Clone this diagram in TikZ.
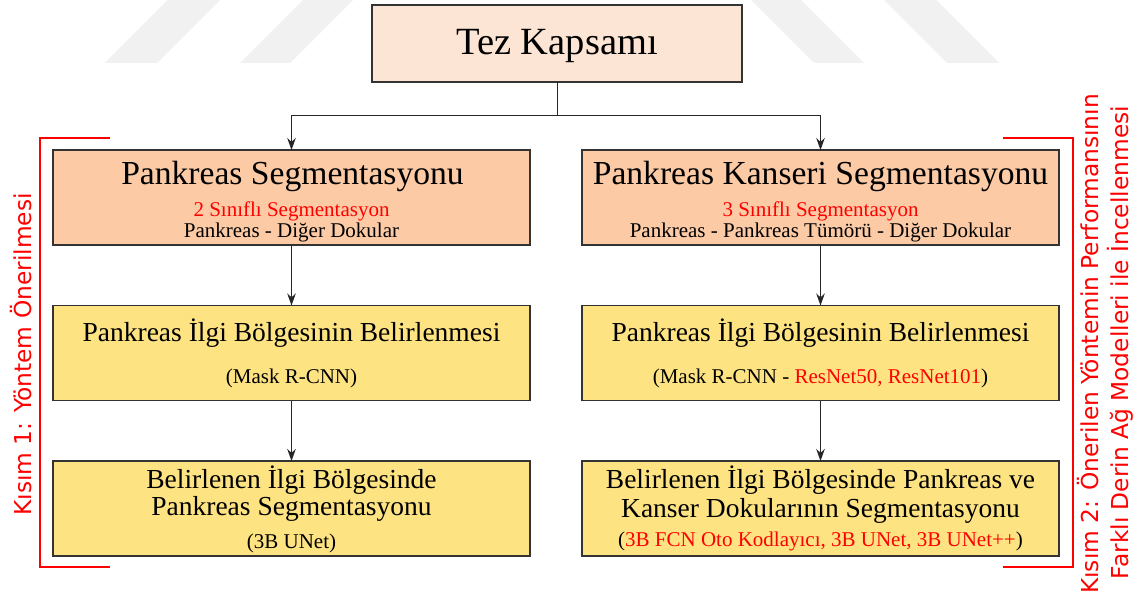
\documentclass[tikz,border=0pt]{standalone}
\usepackage{fontspec}
\setmainfont{Liberation Serif}
\newfontfamily\sidefont{DejaVu Sans}
\usetikzlibrary{arrows.meta}

\definecolor{rootfill}{RGB}{253,229,213}
\definecolor{segfill}{RGB}{252,203,166}
\definecolor{stagefill}{RGB}{253,227,130}
\definecolor{markred}{RGB}{255,0,0}
\definecolor{stripe}{RGB}{241,241,241}

\tikzset{
  box/.style={draw=black!80, line width=1.2pt, inner sep=0pt, outer sep=0pt},
  rootbox/.style={box, fill=rootfill, minimum width=370pt, minimum height=77pt},
  segbox/.style={box, fill=segfill, minimum width=477pt, minimum height=95pt},
  stagebox/.style={box, fill=stagefill, minimum width=477pt, minimum height=95pt},
  roottext/.style={anchor=base, inner sep=0pt, font=\fontsize{38.5}{38.5}\selectfont},
  headtext/.style={anchor=base, inner sep=0pt, font=\fontsize{33.6}{33.6}\selectfont},
  midtext/.style={anchor=base, inner sep=0pt, font=\fontsize{27.5}{27.5}\selectfont},
  smalltext/.style={anchor=base, inner sep=0pt, font=\fontsize{21}{21}\selectfont},
  link/.style={line width=1pt, draw=black!85},
  arr/.style={link, -{Stealth[length=12pt,width=8.5pt]}},
  bracket/.style={draw=markred, line width=2pt},
  sidetext/.style={rotate=90, anchor=base, inner sep=0pt, text=markred,
    font=\sidefont\fontsize{23.3}{23.3}\selectfont}
}

\begin{document}
\begin{tikzpicture}[x=1pt, y=-1pt]
  \useasboundingbox (0,0) rectangle (1136,599);
  \fill[white] (0,0) rectangle (1136,599);

  % faint diagonal stripes across the top
  \fill[stripe] (105,63) -- (157,63) -- (220,0) -- (168,0) -- cycle;
  \fill[stripe] (240,63) -- (290,63) -- (353,0) -- (303,0) -- cycle;
  \fill[stripe] (814,63) -- (864,63) -- (801,0) -- (751,0) -- cycle;
  \fill[stripe] (947,63) -- (999,63) -- (936,0) -- (884,0) -- cycle;

  % root
  \node[rootbox] (tk) at (557,43.5) {};
  \node[roottext] (tkt) at (557,55) {Tez Kapsamı};

  % left column
  \node[segbox]   (ps)  at (291.5,197.5) {};
  \node[stagebox] (pr)  at (291.5,353) {};
  \node[stagebox] (pb)  at (291.5,508.5) {};

  % right column
  \node[segbox]   (ks)  at (820.5,197.5) {};
  \node[stagebox] (kr)  at (820.5,353) {};
  \node[stagebox] (kb)  at (820.5,508.5) {};

  % left column texts
  \node[headtext] (pst1) at (292.5,185) {Pankreas Segmentasyonu};
  \node[smalltext, text=markred] (pst2) at (291.5,217) {2 Sınıflı Segmentasyon};
  \node[smalltext] (pst3) at (291.5,237) {Pankreas - Diğer Dokular};

  \node[midtext] (prt1) at (291.5,341) {Pankreas İlgi Bölgesinin Belirlenmesi};
  \node[smalltext] (prt2) at (291.5,383) {(Mask R-CNN)};

  \node[midtext] (pbt1) at (291.5,488) {Belirlenen İlgi Bölgesinde};
  \node[midtext] (pbt2) at (291.5,515) {Pankreas Segmentasyonu};
  \node[smalltext] (pbt3) at (291.5,548) {(3B UNet)};

  % right column texts
  \node[headtext] (kst1) at (820.5,185) {Pankreas Kanseri Segmentasyonu};
  \node[smalltext, text=markred] (kst2) at (820.5,217) {3 Sınıflı Segmentasyon};
  \node[smalltext] (kst3) at (820.5,237) {Pankreas - Pankreas Tümörü - Diğer Dokular};

  \node[midtext] (krt1) at (820.5,341) {Pankreas İlgi Bölgesinin Belirlenmesi};
  \node[smalltext] (krt2) at (820.5,383) {(Mask R-CNN - \textcolor{markred}{ResNet50, ResNet101})};

  \node[midtext] (kbt1) at (820.5,488) {Belirlenen İlgi Bölgesinde Pankreas ve};
  \node[midtext] (kbt2) at (820.5,517) {Kanser Dokularının Segmentasyonu};
  \node[smalltext] (kbt3) at (820.5,546) {(\textcolor{markred}{3B FCN Oto Kodlayıcı, 3B UNet, 3B UNet++})};

  % connectors
  \coordinate (split) at (557,116);
  \draw[link] (tk.south) -- (split);
  \draw[arr] (split) -| (ps.north);
  \draw[arr] (split) -| (ks.north);
  \draw[arr] (ps) -- (pr);
  \draw[arr] (pr) -- (pb);
  \draw[arr] (ks) -- (kr);
  \draw[arr] (kr) -- (kb);

  % part brackets
  \coordinate (la) at (110,138);
  \coordinate (lb) at (40,138);
  \coordinate (lc) at (40,567);
  \coordinate (ld) at (110,567);
  \draw[bracket] (la) -- (lb) -- (lc) -- (ld);
  \coordinate (ra) at (1003,138);
  \coordinate (rb) at (1073,138);
  \coordinate (rc) at (1073,567);
  \coordinate (rd) at (1003,567);
  \draw[bracket] (ra) -- (rb) -- (rc) -- (rd);

  \node[sidetext] (part1) at (31,354.5) {Kısım 1: Yöntem Önerilmesi};
  \node[sidetext] (part2a) at (1098,344) {Kısım 2: Önerilen Yöntemin Performansının};
  \node[sidetext] (part2b) at (1128,342.5) {Farklı Derin Ağ Modelleri ile İncellenmesi};
\end{tikzpicture}
\end{document}
